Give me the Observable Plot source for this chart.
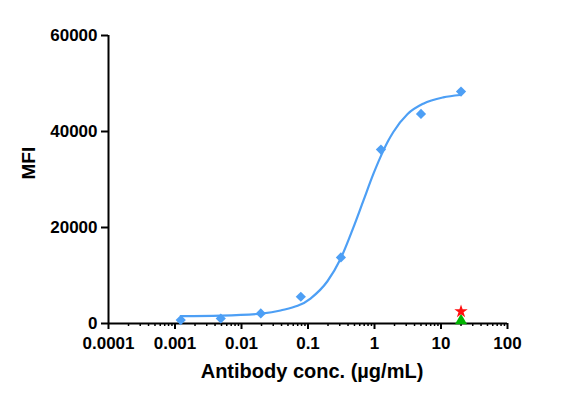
<!DOCTYPE html>
<html>
<head>
<meta charset="utf-8">
<script src="https://cdn.jsdelivr.net/npm/d3@7"></script>
<script src="https://cdn.jsdelivr.net/npm/@observablehq/plot@0.6"></script>
<style>
  html, body { margin: 0; padding: 0; background: white; }
</style>
</head>
<body>
<div id="chart"></div>
<script>
// Measured data (µg/mL vs MFI)
const conc = [0.00122, 0.00488, 0.0195, 0.078, 0.3125, 1.25, 5, 20];
const mfi = [710, 1040, 2090, 5570, 13760, 36230, 43670, 48320];

// Fitted curve
const fitConc = [0.00122, 0.00485, 0.0200, 0.0386, 0.109, 0.196, 0.308, 0.482, 0.681, 0.962, 1.36, 1.6, 1.92, 3.12, 5.42, 10.8, 19.5];
const fitMfi = [1550, 1650, 2050, 2700, 5200, 8800, 13431, 20021, 25589, 31157, 36016, 38000, 39900, 43600, 45800, 47100, 47600];

// Controls at 20 µg/mL
const starConc = [20];
const starMfi = [2500];
const triConc = [20];
const triMfi = [560];

// Axis ticks
const xTicks = [0.0001, 0.001, 0.01, 0.1, 1, 10, 100];
const xTickLabels = ["0.0001", "0.001", "0.01", "0.1", "1", "10", "100"];
const yTicks = [0, 20000, 40000, 60000];
const minorMultipliers = [2, 3, 4, 5, 6, 7, 8, 9];
const xMinor = xTicks.slice(0, -1).flatMap(t => minorMultipliers.map(m => t * m));

const points = conc.map((c, i) => ({c, v: mfi[i]}));
const fit = fitConc.map((c, i) => ({c, v: fitMfi[i]}));
const stars = starConc.map((c, i) => ({c, v: starMfi[i]}));
const tris = triConc.map((c, i) => ({c, v: triMfi[i]}));

const blue = "#4d9ff5";

const chart = Plot.plot({
  width: 566,
  height: 407,
  marginLeft: 108,
  marginRight: 59,
  marginTop: 35,
  marginBottom: 84,
  style: {
    fontFamily: "'Liberation Sans', Arial, sans-serif",
    fontWeight: "bold",
    fontSize: "17px",
    color: "black",
    background: "white"
  },
  x: {type: "log", domain: [1e-4, 100]},
  y: {domain: [0, 60000]},
  marks: [
    Plot.axisY({ticks: yTicks, tickFormat: d => String(d), tickSize: 7, tickPadding: 4, label: null, strokeWidth: 2, fontSize: 17}),
    Plot.axisX({ticks: xTicks, tickFormat: d => xTickLabels[xTicks.indexOf(d)], tickSize: 6, tickPadding: 7, label: null, strokeWidth: 2, fontSize: 17}),
    Plot.axisX({ticks: xMinor, tickSize: 3, text: null, label: null, strokeWidth: 1.5}),
    Plot.ruleY([0], {strokeWidth: 2}),
    Plot.ruleX([1e-4], {strokeWidth: 2}),
    Plot.text(["MFI"], {text: d => d, frameAnchor: "left", rotate: -90, dx: -80, fontSize: 19, fontWeight: "bold"}),
    Plot.text(["Antibody conc. (µg/mL)"], {text: d => d, frameAnchor: "bottom", dx: 4, dy: 54, fontSize: 20, fontWeight: "bold"}),
    Plot.line(fit, {x: "c", y: "v", stroke: blue, strokeWidth: 2.2, curve: "monotone-x"}),
    Plot.dot(points, {x: "c", y: "v", symbol: "diamond2", r: 4.6, fill: blue, stroke: "none"}),
    Plot.dot(tris, {x: "c", y: "v", symbol: "triangle", r: 4.5, fill: "#00b400", stroke: "none"}),
    Plot.dot(stars, {x: "c", y: "v", symbol: "star", r: 4.2, fill: "#ff1010", stroke: "none"})
  ]
});
document.getElementById("chart").appendChild(chart);
</script>
</body>
</html>
